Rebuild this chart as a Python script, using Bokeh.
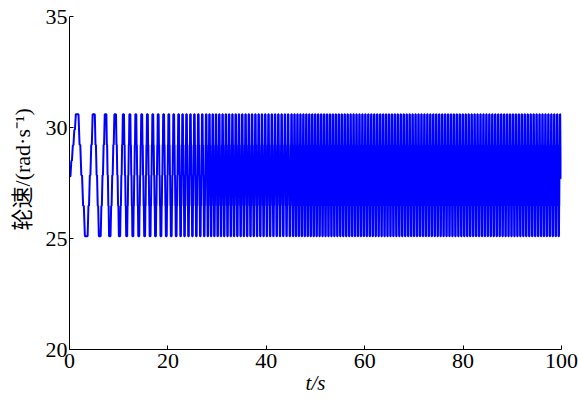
from bokeh.plotting import figure
from bokeh.models import Range1d, FixedTicker
from bokeh.embed import file_html
from bokeh.resources import INLINE

# ---- data ----
start_t, start_v = 0.0, 27.8
end_t, end_v = 100.0, 27.7
peak_level = 30.6
trough_level = 25.1

peak_t = [1.6, 5.0, 7.4, 9.35, 11.0, 12.3, 13.5, 14.7, 15.85, 16.95, 18.05, 19.15,
          20.2, 21.2, 22.2,
          23.0, 23.8, 24.6, 25.4, 26.2, 27.0, 27.8, 28.46, 29.13, 29.8, 30.46,
          31.13, 31.8, 32.46, 33.13, 33.8, 34.46, 35.13, 35.8, 36.46, 37.13, 37.8,
          38.46, 39.13, 39.8, 40.46, 41.13, 41.8, 42.46, 43.13, 43.8, 44.46,
          45.15, 45.75, 46.35, 46.95, 47.55, 48.15, 48.75, 49.35, 49.95, 50.55,
          51.15, 51.75, 52.35, 52.95, 53.55, 54.15, 54.75, 55.35, 55.95, 56.55,
          57.15, 57.75, 58.35, 58.95, 59.55, 60.15, 60.75, 61.35, 61.95, 62.55,
          63.15, 63.75, 64.35, 64.95, 65.55, 66.15, 66.75, 67.35, 67.95, 68.55,
          69.15, 69.75, 70.35, 70.95, 71.55, 72.15, 72.75, 73.35, 73.95, 74.55,
          75.15, 75.75, 76.35, 76.95, 77.55, 78.15, 78.75, 79.35, 79.95, 80.55,
          81.15, 81.75, 82.35, 82.95, 83.55, 84.15, 84.75, 85.35, 85.95, 86.55,
          87.15, 87.75, 88.35, 88.95, 89.55, 90.15, 90.75, 91.35, 91.95, 92.55,
          93.15, 93.75, 94.35, 94.95, 95.55, 96.15, 96.75, 97.35, 97.95, 98.55,
          99.15, 99.75]

trough_t = [3.5, 6.2, 8.2, 10.2, 11.65, 12.9, 14.1, 15.3, 16.4, 17.5, 18.6, 19.7,
            20.7, 21.7,
            22.6, 23.4, 24.2, 25.0, 25.8, 26.6, 27.4, 28.13, 28.8, 29.46, 30.13,
            30.8, 31.46, 32.13, 32.8, 33.46, 34.13, 34.8, 35.46, 36.13, 36.8,
            37.46, 38.13, 38.8, 39.46, 40.13, 40.8, 41.46, 42.13, 42.8, 43.46,
            44.13, 44.8,
            45.45, 46.05, 46.65, 47.25, 47.85, 48.45, 49.05, 49.65, 50.25, 50.85,
            51.45, 52.05, 52.65, 53.25, 53.85, 54.45, 55.05, 55.65, 56.25, 56.85,
            57.45, 58.05, 58.65, 59.25, 59.85, 60.45, 61.05, 61.65, 62.25, 62.85,
            63.45, 64.05, 64.65, 65.25, 65.85, 66.45, 67.05, 67.65, 68.25, 68.85,
            69.45, 70.05, 70.65, 71.25, 71.85, 72.45, 73.05, 73.65, 74.25, 74.85,
            75.45, 76.05, 76.65, 77.25, 77.85, 78.45, 79.05, 79.65, 80.25, 80.85,
            81.45, 82.05, 82.65, 83.25, 83.85, 84.45, 85.05, 85.65, 86.25, 86.85,
            87.45, 88.05, 88.65, 89.25, 89.85, 90.45, 91.05, 91.65, 92.25, 92.85,
            93.45, 94.05, 94.65, 95.25, 95.85, 96.45, 97.05, 97.65, 98.25, 98.85,
            99.45]

x_ticks = [0, 20, 40, 60, 80, 100]
y_ticks = [20, 25, 30, 35]
x_label = "t/s"
y_label = "\u00a0\u00a0\u00a0\u00a0\u00a0轮速/(rad·s⁻¹)"

# ---- build the stepped trace through the turning points ----
turns = sorted([(t, peak_level) for t in peak_t] + [(t, trough_level) for t in trough_t])
pts = [(start_t, start_v)] + turns + [(end_t, end_v)]

n_steps = 4
xs, ys = [start_t], [start_v]
for (t0, v0), (t1, v1) in zip(pts[:-1], pts[1:]):
    dt = t1 - t0
    h = 0.12 * dt
    a, b = t0 + h, t1 - h
    xs.append(a); ys.append(v0)
    d = (b - a) / n_steps
    for k in range(n_steps):
        lv = v0 + (v1 - v0) * (k + 1) / n_steps
        s = a + k * d
        xs.append(s + 0.6 * d); ys.append(lv)
        xs.append(s + d); ys.append(lv)
    xs.append(t1); ys.append(v1)

p = figure(width=578, height=401, output_backend="svg", toolbar_location=None,
           x_range=Range1d(0, 100), y_range=Range1d(20, 35),
           min_border_left=69, min_border_right=17, min_border_top=16, min_border_bottom=52)
p.line(xs, ys, line_color="#0000FF", line_width=2.0)

p.outline_line_color = None
p.grid.visible = False
p.background_fill_color = "white"
p.border_fill_color = "white"
for ax, ticks in ((p.xaxis, x_ticks), (p.yaxis, y_ticks)):
    ax.ticker = FixedTicker(ticks=ticks)
    ax.major_tick_in = 4
    ax.major_tick_out = 0
    ax.minor_tick_line_color = None
    ax.axis_line_color = "black"
    ax.major_tick_line_color = "black"
    ax.major_label_text_font = "Liberation Serif"
    ax.major_label_text_font_size = "22px"
    ax.major_label_text_color = "black"
    ax.axis_label_text_color = "black"
p.xaxis.major_label_standoff = 4
p.yaxis.major_label_standoff = 2

p.xaxis.axis_label = x_label
p.xaxis.axis_label_text_font = "Liberation Serif"
p.xaxis.axis_label_text_font_style = "italic"
p.xaxis.axis_label_text_font_size = "21px"
p.xaxis.axis_label_standoff = 0

p.yaxis.axis_label = y_label
p.yaxis.axis_label_text_font = "Liberation Serif, Noto Sans CJK SC"
p.yaxis.axis_label_text_font_style = "normal"
p.yaxis.axis_label_text_font_size = "22px"
p.yaxis.axis_label_standoff = 8

open("out.html", "w").write(file_html(p, INLINE))
